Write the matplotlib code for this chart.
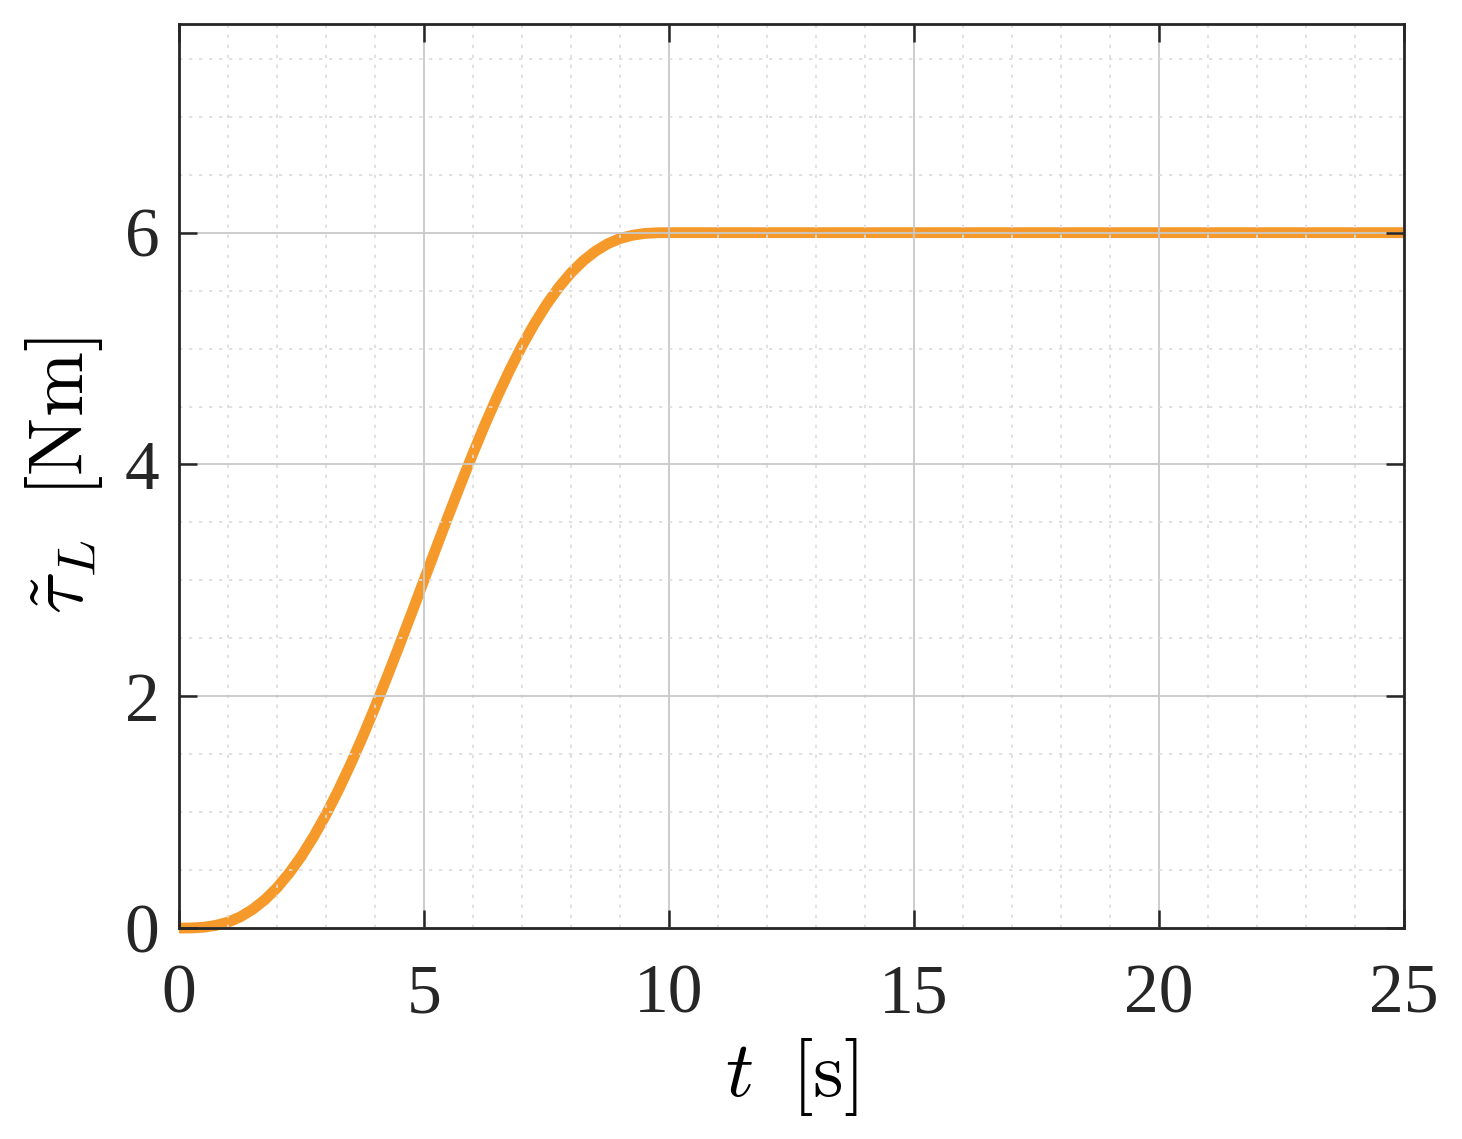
import numpy as np
import matplotlib
matplotlib.use("Agg")
import matplotlib.pyplot as plt
from matplotlib.ticker import MultipleLocator

# load torque ramp (t in s, tau in Nm)
t = [0.0, 0.25, 0.5, 0.75, 1.0, 1.25, 1.5, 1.75, 2.0, 2.25, 2.5, 2.75,
     3.0, 3.25, 3.5, 3.75, 4.0, 4.25, 4.5, 4.75, 5.0, 5.25, 5.5, 5.75,
     6.0, 6.25, 6.5, 6.75, 7.0, 7.25, 7.5, 7.75, 8.0, 8.25, 8.5, 8.75,
     9.0, 9.25, 9.5, 9.75, 10.0, 25.0]
tau = [0.0, 0.001, 0.007, 0.023, 0.051, 0.096, 0.16, 0.243, 0.347, 0.474, 0.621, 0.79,
       0.978, 1.186, 1.411, 1.651, 1.905, 2.169, 2.441, 2.719, 3.0, 3.281, 3.559, 3.831,
       4.095, 4.349, 4.589, 4.814, 5.022, 5.21, 5.379, 5.527, 5.653, 5.757, 5.84, 5.904,
       5.949, 5.977, 5.993, 5.999, 6.0, 6.0]

xticks = [0, 5, 10, 15, 20, 25]
yticks = [0, 2, 4, 6]

plt.rcParams['mathtext.fontset'] = 'cm'
plt.rcParams['font.family'] = ['Liberation Serif', 'DejaVu Serif']

fig = plt.figure(figsize=(14.62, 11.39), dpi=100)
ax = fig.add_axes([0.1224, 0.1852, 0.8379, 0.7937])

ax.plot(t, tau, color='#F59A2A', linewidth=7.8, solid_capstyle='butt',
        solid_joinstyle='round', clip_on=False, zorder=2)

ax.set_xlim(0, 25)
ax.set_ylim(0, 7.8)
ax.set_xticks(xticks)
ax.set_yticks(yticks)
ax.xaxis.set_minor_locator(MultipleLocator(1))
ax.yaxis.set_minor_locator(MultipleLocator(0.5))

ax.set_axisbelow(False)
ax.grid(which='major', color='#c8c8c8', linewidth=1.3, linestyle='-', zorder=2.5)
ax.grid(which='minor', color='#dcdcdc', linewidth=1.2, linestyle=(0, (2, 4)), zorder=2.5)

ax.tick_params(which='major', direction='in', length=13, width=1.8, color='#262626',
               top=True, right=True, labelsize=50, labelcolor='#262626')
ax.tick_params(axis='x', which='major', pad=26)
ax.tick_params(axis='y', which='major', pad=14)
ax.tick_params(which='minor', length=0, top=True, right=True)

for sp in ax.spines.values():
    sp.set_linewidth(2.0)
    sp.set_color('#262626')
    sp.set_zorder(3)

ax.set_xlabel(r'$t\;\;[\mathrm{s}]$', fontsize=56, labelpad=6)
ax.set_ylabel(r'$\tilde{\tau}_L\;\;[\mathrm{Nm}]$', fontsize=56, labelpad=14)

fig.savefig('out.png', dpi=100)
plt.close(fig)
